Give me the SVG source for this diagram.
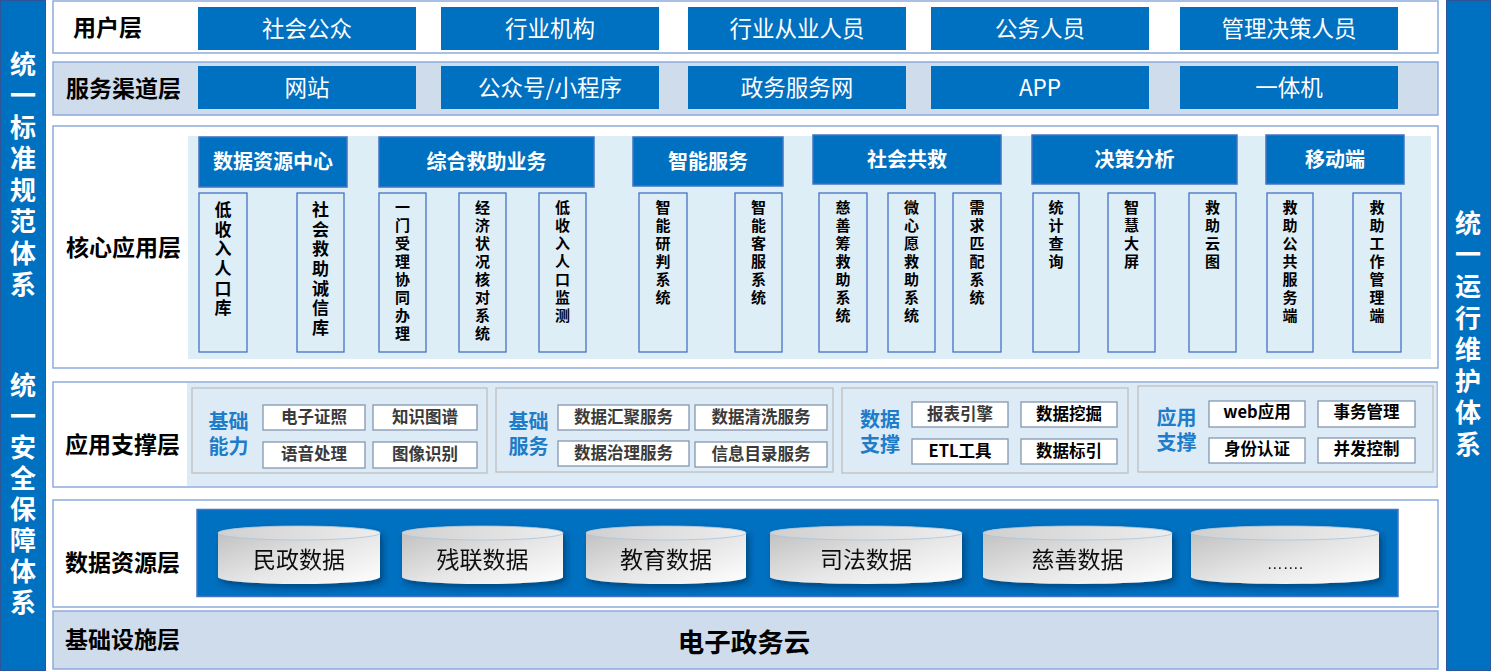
<svg xmlns="http://www.w3.org/2000/svg" width="1491" height="671" viewBox="0 0 1491 671">
<defs>
<style>
text{font-family:"Noto Sans CJK SC","Noto Sans",sans-serif;dominant-baseline:central;transform:translateY(-2px)}
text.v{writing-mode:vertical-rl;text-anchor:start;transform:none}
.panel{stroke:#8EAADB;stroke-width:1.5}
.side{fill:#0070C0;stroke:#2F5597;stroke-width:1}
.sideT{fill:#fff;font-size:26px;font-weight:bold}
.lbl{fill:#000;font-size:23px;font-weight:bold}
.blk{fill:#0070C0}
.blkT{fill:#fff;font-size:22.5px;text-anchor:middle}
.hdr{fill:#0070C0;stroke:#4472C4;stroke-width:1.5}
.hdrT{fill:#fff;font-size:20px;font-weight:bold;text-anchor:middle}
.sub{fill:#DEEEF7;stroke:#4472C4;stroke-width:1.3}
.subA{fill:#000;font-size:17px;font-weight:bold;letter-spacing:2.7px}
.subB{fill:#000;font-size:15px;font-weight:bold;letter-spacing:3px}
.grp{fill:#DDEBF7;stroke:#BFBFBF;stroke-width:1.3}
.grpT{fill:#1E7CC8;font-size:20px;font-weight:bold;text-anchor:middle}
.itm{fill:#fff;stroke:#8497B0;stroke-width:1.3}
.itmT{fill:#3A3A3A;font-size:16.5px;font-weight:bold;text-anchor:middle}
.itmK{fill:#000;font-size:16.5px;font-weight:bold;text-anchor:middle}
.cylT{fill:#111;font-size:23px;text-anchor:middle}
</style>
<linearGradient id="body" x1="0" y1="0" x2="1" y2="1">
<stop offset="0" stop-color="#BDBDBD"/>
<stop offset="0.55" stop-color="#E6E6E6"/>
<stop offset="1" stop-color="#FFFFFF"/>
</linearGradient>
<linearGradient id="top" x1="0" y1="0" x2="1" y2="0">
<stop offset="0" stop-color="#D0D0D0"/>
<stop offset="1" stop-color="#EDEDED"/>
</linearGradient>
<filter id="sh" x="-10%" y="-30%" width="125%" height="170%">
<feDropShadow dx="3" dy="4" stdDeviation="3" flood-color="#002040" flood-opacity="0.5"/>
</filter>
</defs>

<rect width="1491" height="671" fill="#fff"/>

<!-- side bars -->
<g id="left-bar">
<rect class="side" x="0.5" y="0.5" width="45" height="670"/>
<text class="v sideT" x="23" y="51" style="letter-spacing:5.5px">统一标准规范体系</text>
<text class="v sideT" x="23" y="372" style="letter-spacing:5px">统一安全保障体系</text>
</g>
<g id="right-bar">
<rect class="side" x="1446.5" y="0.5" width="44" height="670"/>
<text class="v sideT" x="1468" y="210" style="letter-spacing:5.6px">统一运行维护体系</text>
</g>

<!-- user layer -->
<g id="user-layer">
<rect class="panel" x="53" y="1" width="1385" height="52" fill="#fff"/>
<text class="lbl" x="73" y="28">用户层</text>
<rect class="blk" x="198" y="7" width="218" height="43"/><text class="blkT" x="307" y="28.5">社会公众</text>
<rect class="blk" x="441" y="7" width="218" height="43"/><text class="blkT" x="550" y="28.5">行业机构</text>
<rect class="blk" x="688" y="7" width="218" height="43"/><text class="blkT" x="797" y="28.5">行业从业人员</text>
<rect class="blk" x="931" y="7" width="218" height="43"/><text class="blkT" x="1040" y="28.5">公务人员</text>
<rect class="blk" x="1180" y="7" width="218" height="43"/><text class="blkT" x="1289" y="28.5">管理决策人员</text>
</g>

<!-- service channel layer -->
<g id="channel-layer">
<rect class="panel" x="53" y="62" width="1385" height="53" fill="#CFDCEC"/>
<text class="lbl" x="66" y="89">服务渠道层</text>
<rect class="blk" x="198" y="66" width="218" height="43"/><text class="blkT" x="307" y="87.5">网站</text>
<rect class="blk" x="441" y="66" width="218" height="43"/><text class="blkT" x="550" y="87.5">公众号/小程序</text>
<rect class="blk" x="688" y="66" width="218" height="43"/><text class="blkT" x="797" y="87.5">政务服务网</text>
<rect class="blk" x="931" y="66" width="218" height="43"/><text class="blkT" x="1040" y="87.5">APP</text>
<rect class="blk" x="1180" y="66" width="218" height="43"/><text class="blkT" x="1289" y="87.5">一体机</text>
</g>

<!-- core application layer -->
<g id="core-layer">
<rect class="panel" x="53" y="126" width="1385" height="242" fill="#fff"/>
<rect x="188" y="136" width="1243" height="223" fill="#DEEEF7"/>
<text class="lbl" x="66" y="248">核心应用层</text>
</g>

<g id="core-data-center">
<rect class="hdr" x="199" y="137" width="148" height="50"/><text class="hdrT" x="273" y="162">数据资源中心</text>
<rect class="sub" x="199" y="193" width="48" height="159"/>
<text class="v subA" x="223" y="201">低收入人口库</text>
<rect class="sub" x="297" y="193" width="47" height="159"/>
<text class="v subA" x="320.5" y="201">社会救助诚信库</text>
</g>

<g id="core-relief">
<rect class="hdr" x="379" y="137" width="215" height="50"/><text class="hdrT" x="486.5" y="162">综合救助业务</text>
<rect class="sub" x="379" y="193" width="47" height="159"/>
<text class="v subB" x="402.5" y="200">一门受理协同办理</text>
<rect class="sub" x="459" y="193" width="47" height="159"/>
<text class="v subB" x="482.5" y="200">经济状况核对系统</text>
<rect class="sub" x="539" y="193" width="47" height="159"/>
<text class="v subB" x="562.5" y="200">低收入人口监测</text>
</g>

<g id="core-smart">
<rect class="hdr" x="633" y="137" width="150" height="49"/><text class="hdrT" x="708" y="162">智能服务</text>
<rect class="sub" x="639" y="193" width="48" height="159"/>
<text class="v subB" x="663" y="200">智能研判系统</text>
<rect class="sub" x="735" y="193" width="47" height="159"/>
<text class="v subB" x="758.5" y="200">智能客服系统</text>
</g>

<g id="core-social">
<rect class="hdr" x="813" y="135" width="188" height="49"/><text class="hdrT" x="907" y="160">社会共救</text>
<rect class="sub" x="819" y="193" width="48" height="159"/>
<text class="v subB" x="843" y="200">慈善筹救助系统</text>
<rect class="sub" x="888" y="193" width="47" height="159"/>
<text class="v subB" x="911.5" y="200">微心愿救助系统</text>
<rect class="sub" x="953" y="193" width="48" height="159"/>
<text class="v subB" x="977" y="200">需求匹配系统</text>
</g>

<g id="core-decision">
<rect class="hdr" x="1032" y="135" width="205" height="49"/><text class="hdrT" x="1134.5" y="160">决策分析</text>
<rect class="sub" x="1033" y="193" width="46" height="159"/>
<text class="v subB" x="1056" y="200">统计查询</text>
<rect class="sub" x="1108" y="193" width="47" height="159"/>
<text class="v subB" x="1131.5" y="200">智慧大屏</text>
<rect class="sub" x="1189" y="193" width="47" height="159"/>
<text class="v subB" x="1212.5" y="200">救助云图</text>
</g>

<g id="core-mobile">
<rect class="hdr" x="1266" y="135" width="138" height="49"/><text class="hdrT" x="1335" y="160">移动端</text>
<rect class="sub" x="1267" y="193" width="46" height="159"/>
<text class="v subB" x="1290" y="200">救助公共服务端</text>
<rect class="sub" x="1353" y="193" width="48" height="159"/>
<text class="v subB" x="1377" y="200">救助工作管理端</text>
</g>

<!-- application support layer -->
<g id="support-layer">
<rect class="panel" x="53" y="382" width="1384" height="105" fill="#fff"/>
<rect x="187" y="383" width="1249.5" height="103" fill="#DDEBF7"/>
<text class="lbl" x="65" y="445">应用支撑层</text>
</g>

<g id="support-basic-ability">
<rect class="grp" x="192" y="388" width="295" height="85"/>
<text class="grpT" x="228.5" y="422">基础</text><text class="grpT" x="228.5" y="447">能力</text>
<rect class="itm" x="263" y="405" width="102" height="25"/><text class="itmT" x="314" y="417.5">电子证照</text>
<rect class="itm" x="373" y="405" width="104" height="25"/><text class="itmT" x="425" y="417.5">知识图谱</text>
<rect class="itm" x="263" y="442" width="102" height="26"/><text class="itmT" x="314" y="455">语音处理</text>
<rect class="itm" x="373" y="442" width="104" height="26"/><text class="itmT" x="425" y="455">图像识别</text>
</g>

<g id="support-basic-service">
<rect class="grp" x="496" y="388" width="337" height="84"/>
<text class="grpT" x="528.5" y="422">基础</text><text class="grpT" x="528.5" y="447">服务</text>
<rect class="itm" x="558" y="405" width="131" height="25"/><text class="itmT" x="623.5" y="417.5">数据汇聚服务</text>
<rect class="itm" x="695" y="405" width="132" height="25"/><text class="itmT" x="761" y="417.5">数据清洗服务</text>
<rect class="itm" x="558" y="441" width="131" height="25"/><text class="itmT" x="623.5" y="453.5">数据治理服务</text>
<rect class="itm" x="695" y="442" width="132" height="25"/><text class="itmT" x="761" y="454.5">信息目录服务</text>
</g>

<g id="support-data">
<rect class="grp" x="842" y="388" width="286" height="85"/>
<text class="grpT" x="880" y="420">数据</text><text class="grpT" x="880" y="445">支撑</text>
<rect class="itm" x="912" y="402" width="96" height="25"/><text class="itmT" x="960" y="414.5">报表引擎</text>
<rect class="itm" x="1021" y="402" width="96" height="25"/><text class="itmK" x="1069" y="414.5">数据挖掘</text>
<rect class="itm" x="912" y="439" width="96" height="25"/><text class="itmK" x="960" y="451.5">ETL工具</text>
<rect class="itm" x="1021" y="439" width="96" height="25"/><text class="itmK" x="1069" y="451.5">数据标引</text>
</g>

<g id="support-app">
<rect class="grp" x="1138" y="386" width="295" height="86"/>
<text class="grpT" x="1176.5" y="418">应用</text><text class="grpT" x="1176.5" y="443">支撑</text>
<rect class="itm" x="1209" y="401" width="96" height="26"/><text class="itmK" x="1257" y="413">web应用</text>
<rect class="itm" x="1318" y="401" width="97" height="26"/><text class="itmK" x="1366.5" y="413">事务管理</text>
<rect class="itm" x="1209" y="438" width="96" height="25"/><text class="itmK" x="1257" y="450">身份认证</text>
<rect class="itm" x="1318" y="438" width="97" height="25"/><text class="itmK" x="1366.5" y="450">并发控制</text>
</g>

<!-- data resource layer -->
<g id="data-layer">
<rect class="panel" x="53" y="500" width="1385" height="107" fill="#fff"/>
<rect x="197" y="509.5" width="1201" height="87" fill="#0070C0" stroke="#4472C4" stroke-width="1.5"/>
<text class="lbl" x="65" y="563">数据资源层</text>
</g>

<g id="db-minzheng" filter="url(#sh)">
<path d="M218,533 A81,7 0 0 1 380,533 L380,577 A81,7 0 0 1 218,577 Z" fill="url(#body)"/>
<ellipse cx="299" cy="533" rx="81" ry="7" fill="url(#top)" stroke="#A9C4DE" stroke-width="0.8"/>
<text class="cylT" x="299" y="560">民政数据</text>
</g>
<g id="db-canlian" filter="url(#sh)">
<path d="M402,533 A80.5,7 0 0 1 563,533 L563,577 A80.5,7 0 0 1 402,577 Z" fill="url(#body)"/>
<ellipse cx="482.5" cy="533" rx="80.5" ry="7" fill="url(#top)" stroke="#A9C4DE" stroke-width="0.8"/>
<text class="cylT" x="482.5" y="560">残联数据</text>
</g>
<g id="db-jiaoyu" filter="url(#sh)">
<path d="M586,533 A80,7 0 0 1 746,533 L746,577 A80,7 0 0 1 586,577 Z" fill="url(#body)"/>
<ellipse cx="666" cy="533" rx="80" ry="7" fill="url(#top)" stroke="#A9C4DE" stroke-width="0.8"/>
<text class="cylT" x="666" y="560">教育数据</text>
</g>
<g id="db-sifa" filter="url(#sh)">
<path d="M770,533 A96,7 0 0 1 962,533 L962,577 A96,7 0 0 1 770,577 Z" fill="url(#body)"/>
<ellipse cx="866" cy="533" rx="96" ry="7" fill="url(#top)" stroke="#A9C4DE" stroke-width="0.8"/>
<text class="cylT" x="866" y="560">司法数据</text>
</g>
<g id="db-cishan" filter="url(#sh)">
<path d="M983,533 A94.5,7 0 0 1 1172,533 L1172,577 A94.5,7 0 0 1 983,577 Z" fill="url(#body)"/>
<ellipse cx="1077.5" cy="533" rx="94.5" ry="7" fill="url(#top)" stroke="#A9C4DE" stroke-width="0.8"/>
<text class="cylT" x="1077.5" y="560">慈善数据</text>
</g>
<g id="db-more" filter="url(#sh)">
<path d="M1191,533 A94,7 0 0 1 1379,533 L1379,577 A94,7 0 0 1 1191,577 Z" fill="url(#body)"/>
<ellipse cx="1285" cy="533" rx="94" ry="7" fill="url(#top)" stroke="#A9C4DE" stroke-width="0.8"/>
<text x="1285" y="569" style="font-family:'Liberation Sans',sans-serif;font-size:16px;fill:#111;text-anchor:middle;dominant-baseline:auto;transform:none">…….</text>
</g>

<!-- infrastructure layer -->
<g id="infra-layer">
<rect class="panel" x="53" y="611" width="1385" height="58" fill="#CFDCEC"/>
<text class="lbl" x="65" y="640">基础设施层</text>
<text x="744" y="642" style="fill:#000;font-size:26.5px;font-weight:bold;text-anchor:middle">电子政务云</text>
</g>

<g id="connectors"></g>
</svg>
